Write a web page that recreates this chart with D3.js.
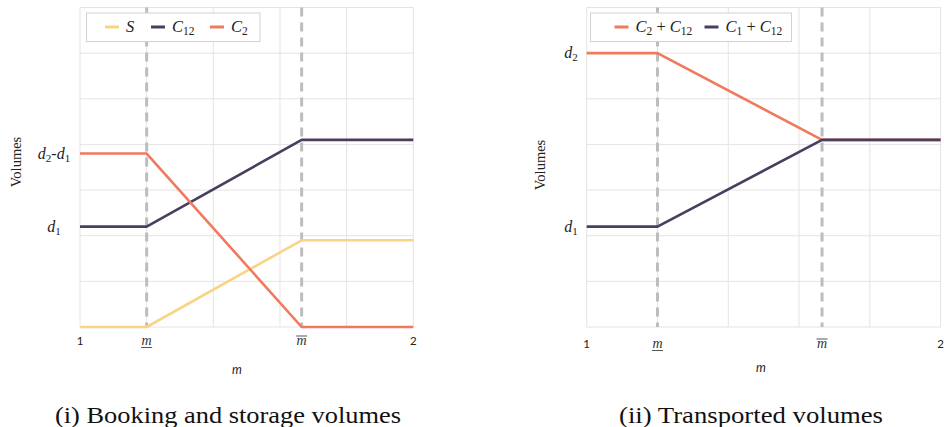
<!DOCTYPE html>
<html>
<head>
<meta charset="utf-8">
<script src="https://cdn.jsdelivr.net/npm/d3@7"></script>
<style>
  html, body { margin: 0; padding: 0; background: #ffffff; }
  svg { display: block; }
</style>
</head>
<body>
<svg id="chart" width="944" height="427"></svg>
<script>
// Break points on the m axis
const mLow = 1.2;
const mHigh = 1.665;
const mPoints = [1, mLow, mHigh, 2];

// Panel (i): booking and storage volumes
const sValues = [0, 0, 1.9, 1.9];
const c12Values = [2.2, 2.2, 4.1, 4.1];
const c2Values = [3.8, 3.8, 0, 0];

// Panel (ii): transported volumes
const c2PlusC12Values = [6, 6, 4.1, 4.1];
const c1PlusC12Values = [2.2, 2.2, 4.1, 4.1];

// Reference levels on the volume axis
const d1 = 2.2, d2 = 6;

// Axis ticks
const xTickValues = [1, mLow, mHigh, 2];
const xTickLabels = ["1", "m", "m", "2"];
const xGridValues = [1, 1.2, 1.4, 1.6, 1.8, 2];
const yGridValues = [0, 1, 2, 3, 4, 5, 6, 7];

const COL_S = "#F9D486";
const COL_C12 = "#4A3D5E";
const COL_C2 = "#F07A5F";
const GRID = "#E4E4E4";
const DASH = "#BDBDBD";
const MATH_FONT = "'Liberation Serif', 'DejaVu Serif', serif";
const SANS = "Lato, 'Liberation Sans', sans-serif";

const svg = d3.select("#chart");

function addParts(t, parts, subSize) {
  parts.forEach(p => {
    const ts = t.append("tspan").text(p.t);
    if (p.sub) ts.attr("font-size", subSize).attr("dy", 3).attr("font-style", "normal");
    else ts.attr("dy", p.up ? -3 : 0).attr("font-style", p.it ? "italic" : "normal");
  });
}

function drawPanel(cfg) {
  const x = d3.scaleLinear().domain([1, 2]).range([cfg.x0, cfg.x1]);
  const y = d3.scaleLinear().domain([0, 7]).range([327, 7.5]);
  const g = svg.append("g");

  // grid
  g.append("g").selectAll("line").data(xGridValues).join("line")
    .attr("x1", d => x(d)).attr("x2", d => x(d))
    .attr("y1", y(0)).attr("y2", y(7))
    .attr("stroke", GRID).attr("stroke-width", 1);
  g.append("g").selectAll("line").data(yGridValues).join("line")
    .attr("x1", x(1)).attr("x2", x(2))
    .attr("y1", d => y(d)).attr("y2", d => y(d))
    .attr("stroke", GRID).attr("stroke-width", 1);

  // dashed markers at the break points
  g.append("g").selectAll("line").data([mLow, mHigh]).join("line")
    .attr("x1", d => x(d)).attr("x2", d => x(d))
    .attr("y1", y(7)).attr("y2", y(0))
    .attr("stroke", DASH).attr("stroke-width", 3)
    .attr("stroke-dasharray", "9,6");

  // series lines
  const line = d3.line().x((d, i) => x(mPoints[i])).y(d => y(d));
  cfg.series.forEach(s => {
    g.append("path").datum(s.values)
      .attr("d", line)
      .attr("fill", "none")
      .attr("stroke", s.color)
      .attr("stroke-width", 2.6)
      .attr("stroke-linejoin", "round");
  });

  // x tick labels
  xTickValues.forEach((v, i) => {
    const t = g.append("text")
      .attr("x", x(v)).attr("y", cfg.tickY)
      .attr("text-anchor", "middle");
    if (i === 1 || i === 2) {
      t.attr("font-family", MATH_FONT).attr("font-style", "italic")
        .attr("font-size", 14).attr("fill", "#333")
        .text(xTickLabels[i]);
      const bar = i === 1 ? cfg.tickY + 2.5 : cfg.tickY - 9;
      g.append("line")
        .attr("x1", x(v) - 5.5).attr("x2", x(v) + 5.5)
        .attr("y1", bar).attr("y2", bar)
        .attr("stroke", "#444").attr("stroke-width", 0.9);
    } else {
      t.attr("font-family", SANS).attr("font-size", 11.5).attr("fill", "#222")
        .text(xTickLabels[i]);
    }
  });

  // x axis title
  g.append("text")
    .attr("x", cfg.titleX).attr("y", cfg.titleY)
    .attr("text-anchor", "middle")
    .attr("font-family", SANS).attr("font-style", "italic")
    .attr("font-size", 12.5).attr("fill", "#222")
    .text("m");

  // y axis title
  g.append("text")
    .attr("transform", `translate(${cfg.yTitleX},${cfg.yTitleY}) rotate(-90)`)
    .attr("text-anchor", "middle")
    .attr("font-family", MATH_FONT)
    .attr("font-size", 14.5).attr("fill", "#222")
    .text("Volumes");

  // y labels for the reference levels
  cfg.yLabels.forEach(lab => {
    const t = g.append("text")
      .attr("x", cfg.yLabelX).attr("y", y(lab.value) + 5)
      .attr("text-anchor", "middle")
      .attr("font-family", MATH_FONT).attr("font-size", 16).attr("fill", "#222");
    addParts(t, lab.parts, 11);
  });

  // legend
  const lg = g.append("g");
  lg.append("rect")
    .attr("x", cfg.legend.x).attr("y", 13)
    .attr("width", cfg.legend.w).attr("height", 28.5)
    .attr("fill", "#fff").attr("stroke", "#D2D2D2").attr("stroke-width", 1);
  cfg.legend.items.forEach(it => {
    lg.append("line")
      .attr("x1", it.x).attr("x2", it.x + 14)
      .attr("y1", 27).attr("y2", 27)
      .attr("stroke", it.color).attr("stroke-width", 3);
    const t = lg.append("text")
      .attr("x", it.x + 21).attr("y", 32)
      .attr("font-family", MATH_FONT).attr("font-size", 16.5).attr("fill", "#222");
    addParts(t, it.parts, 11.5);
  });

  // caption
  g.append("text")
    .attr("x", cfg.capX).attr("y", 423)
    .attr("text-anchor", "middle")
    .attr("font-family", "'Liberation Serif', 'DejaVu Serif', serif")
    .attr("font-size", 24).attr("fill", "#111")
    .attr("textLength", cfg.capW).attr("lengthAdjust", "spacingAndGlyphs")
    .text(cfg.caption);
}

drawPanel({
  x0: 80, x1: 413.3,
  tickY: 345, titleX: 237, titleY: 374,
  yTitleX: 21, yTitleY: 162,
  yLabelX: 54,
  yLabels: [
    { value: d2 - d1, parts: [{ t: "d", it: true }, { t: "2", sub: true }, { t: "-", up: true }, { t: "d", it: true }, { t: "1", sub: true }] },
    { value: d1, parts: [{ t: "d", it: true }, { t: "1", sub: true }] }
  ],
  series: [
    { values: sValues, color: COL_S },
    { values: c12Values, color: COL_C12 },
    { values: c2Values, color: COL_C2 }
  ],
  legend: {
    x: 86.5, w: 173.5,
    items: [
      { x: 105, color: COL_S, parts: [{ t: "S", it: true }] },
      { x: 151, color: COL_C12, parts: [{ t: "C", it: true }, { t: "12", sub: true }] },
      { x: 210, color: COL_C2, parts: [{ t: "C", it: true }, { t: "2", sub: true }] }
    ]
  },
  capX: 228, capW: 346,
  caption: "(i) Booking and storage volumes"
});

drawPanel({
  x0: 586.7, x1: 940.6,
  tickY: 348, titleX: 761, titleY: 372,
  yTitleX: 545, yTitleY: 165,
  yLabelX: 571,
  yLabels: [
    { value: d2, parts: [{ t: "d", it: true }, { t: "2", sub: true }] },
    { value: d1, parts: [{ t: "d", it: true }, { t: "1", sub: true }] }
  ],
  series: [
    { values: c2PlusC12Values, color: COL_C2 },
    { values: c1PlusC12Values, color: COL_C12 }
  ],
  legend: {
    x: 590.5, w: 201,
    items: [
      { x: 614.5, color: COL_C2, parts: [{ t: "C", it: true }, { t: "2", sub: true }, { t: " + ", up: true }, { t: "C", it: true }, { t: "12", sub: true }] },
      { x: 704.5, color: COL_C12, parts: [{ t: "C", it: true }, { t: "1", sub: true }, { t: " + ", up: true }, { t: "C", it: true }, { t: "12", sub: true }] }
    ]
  },
  capX: 751, capW: 264,
  caption: "(ii) Transported volumes"
});
</script>
</body>
</html>
